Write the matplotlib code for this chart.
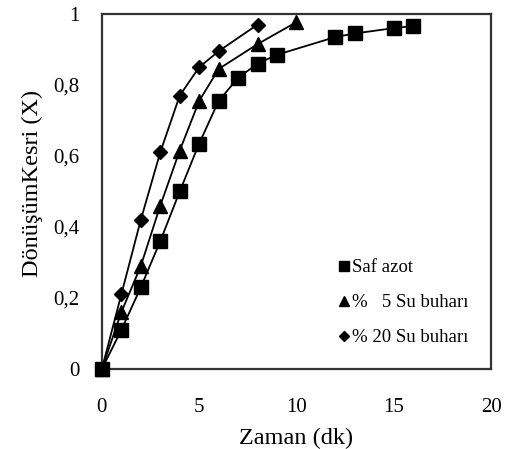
import matplotlib
matplotlib.use('Agg')
import matplotlib.pyplot as plt
from matplotlib.lines import Line2D
from matplotlib.ticker import FuncFormatter

# Veri
zaman_saf = [0, 1, 2, 3, 4, 5, 6, 7, 8, 9, 12, 13, 15, 16]
x_saf = [0, 0.11, 0.23, 0.36, 0.50, 0.635, 0.755, 0.82, 0.86, 0.885, 0.935, 0.945, 0.96, 0.966]

zaman_5 = [0, 1, 2, 3, 4, 5, 6, 8, 10]
x_5 = [0, 0.16, 0.29, 0.46, 0.615, 0.755, 0.845, 0.915, 0.977]

zaman_20 = [0, 1, 2, 3, 4, 5, 6, 8]
x_20 = [0, 0.21, 0.42, 0.61, 0.77, 0.85, 0.895, 0.97]

etiketler = ['Saf azot', '%   5 Su buharı', '% 20 Su buharı']

plt.rcParams['font.family'] = ['Liberation Serif', 'DejaVu Serif']

fig = plt.figure(figsize=(5.17, 4.49), dpi=100)
ax = fig.add_axes([0.197, 0.178, 0.753, 0.791])

ax.plot(zaman_saf, x_saf, color='black', lw=1.3, marker='s', ms=9.5, clip_on=False, zorder=3)
ax.plot(zaman_5, x_5, color='black', lw=1.3, marker='^', ms=9.5, clip_on=False, zorder=3)
ax.plot(zaman_20, x_20, color='black', lw=1.3, marker='D', ms=7, clip_on=False, zorder=3)

ax.set_xlim(0, 20)
ax.set_ylim(0, 1)
ax.set_xticks([0, 5, 10, 15, 20])
ax.set_yticks([0, 0.2, 0.4, 0.6, 0.8, 1])
ax.yaxis.set_major_formatter(FuncFormatter(lambda v, p: ('%g' % v).replace('.', ',')))
ax.tick_params(length=0, labelsize=15)
ax.tick_params(axis='y', pad=16)
ax.tick_params(axis='x', pad=21)
for s in ax.spines.values():
    s.set_linewidth(1.6)
    s.set_color('#333333')

ax.set_xlabel('Zaman (dk)', fontsize=17.5, labelpad=8)
ax.set_ylabel('DönüşümKesri (X)', fontsize=17.5)
ax.yaxis.set_label_coords(-0.152, 0.524)

tutamaclar = [
    Line2D([], [], color='black', marker='s', ls='none', ms=7),
    Line2D([], [], color='black', marker='^', ls='none', ms=7),
    Line2D([], [], color='black', marker='D', ls='none', ms=5),
]
ax.legend(tutamaclar, etiketler, loc='lower right', bbox_to_anchor=(0.985, 0.017),
          frameon=False, fontsize=13.5, handlelength=0.6, handletextpad=0.1,
          labelspacing=0.95)

plt.savefig('out.png', dpi=100)
